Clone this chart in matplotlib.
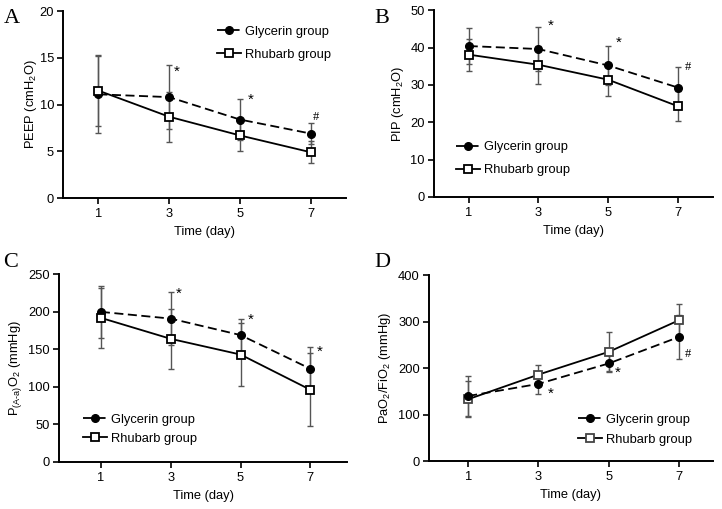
import matplotlib
matplotlib.use("Agg")
import matplotlib.pyplot as plt

plt.rcParams['font.family'] = ['Liberation Sans', 'DejaVu Sans']
plt.rcParams['mathtext.fontset'] = 'custom'
plt.rcParams['mathtext.rm'] = 'Liberation Sans'
plt.rcParams['mathtext.it'] = 'Liberation Sans:italic'
plt.rcParams['mathtext.bf'] = 'Liberation Sans:bold'

days = [1, 3, 5, 7]
groups = ["Glycerin group", "Rhubarb group"]

# Panel A: PEEP
peep_gly = [11.1, 10.8, 8.4, 6.9]
peep_gly_sd = [4.1, 3.4, 2.2, 1.1]
peep_rhu = [11.5, 8.7, 6.7, 4.9]
peep_rhu_sd = [3.8, 2.7, 1.7, 1.2]
peep_marks = ["*", "*", "#"]

# Panel B: PIP
pip_gly = [40.4, 39.6, 35.2, 29.3]
pip_gly_sd = [4.9, 5.9, 5.1, 5.6]
pip_rhu = [38.1, 35.4, 31.4, 24.3]
pip_rhu_sd = [4.3, 5.1, 4.5, 4.0]
pip_marks = ["*", "*", "#"]

# Panel C: P(A-a)O2
paa_gly = [200, 191, 169, 124]
paa_gly_sd = [35, 35, 21, 29]
paa_rhu = [192, 164, 143, 96]
paa_rhu_sd = [40, 40, 42, 49]
paa_marks = ["*", "*", "*"]

# Panel D: PaO2/FiO2
pf_gly = [140, 166, 210, 267]
pf_gly_sd = [43, 22, 18, 47]
pf_rhu = [133, 186, 235, 303]
pf_rhu_sd = [39, 21, 42, 36]
pf_marks = ["*", "*", "#"]

FS = 9.3

fig = plt.figure(figsize=(7.22, 5.09), dpi=100)

panels = [
    dict(letter="A", rect=[0.0873, 0.611, 0.392, 0.367], xlim=(0, 8), ylim=(0, 20), yticks=[0, 5, 10, 15, 20],
         ylabel="PEEP (cmH$_2$O)", gly=peep_gly, gsd=peep_gly_sd, rhu=peep_rhu, rsd=peep_rhu_sd,
         marks=peep_marks, mpos=[(3.2, 13.5), (5.3, 10.5), (7.15, 8.7)],
         leg=(0.544, 0.828), lsp=0.85, gly_top=False, letpos=(0.005, 0.983), lpad=0.5),
    dict(letter="B", rect=[0.601, 0.613, 0.386, 0.367], xlim=(0, 8), ylim=(0, 50), yticks=[0, 10, 20, 30, 40, 50],
         ylabel="PIP (cmH$_2$O)", gly=pip_gly, gsd=pip_gly_sd, rhu=pip_rhu, rsd=pip_rhu_sd,
         marks=pip_marks, mpos=[(3.34, 45.9), (5.31, 41.3), (7.28, 34.8)],
         leg=(0.079, 0.205), lsp=0.85, gly_top=False, letpos=(0.519, 0.983), lpad=3.5),
    dict(letter="C", rect=[0.0817, 0.0929, 0.399, 0.368], xlim=(-0.2, 8.05), ylim=(0, 250), yticks=[0, 50, 100, 150, 200, 250],
         ylabel="P$_{\\mathrm{(A\u2010a)}}$O$_2$ (mmHg)", gly=paa_gly, gsd=paa_gly_sd, rhu=paa_rhu, rsd=paa_rhu_sd,
         marks=paa_marks, mpos=[(3.24, 224.6), (5.3, 190), (7.27, 146.7)],
         leg=(0.083, 0.174), lsp=0.55, gly_top=False, letpos=(0.005, 0.503), lpad=3),
    dict(letter="D", rect=[0.594, 0.0943, 0.393, 0.365], xlim=(-0.12, 7.96), ylim=(0, 400), yticks=[0, 100, 200, 300, 400],
         ylabel="PaO$_2$/FiO$_2$ (mmHg)", gly=pf_gly, gsd=pf_gly_sd, rhu=pf_rhu, rsd=pf_rhu_sd,
         marks=pf_marks, mpos=[(3.34, 145.6), (5.25, 190), (7.27, 230)],
         leg=(0.525, 0.169), lsp=0.6, gly_top=True, letpos=(0.519, 0.503), lpad=3.5),
]

for p in panels:
    ax = fig.add_axes(p["rect"])
    ecol = "#555555"
    zg, zr = (3, 2) if p["gly_top"] else (2, 3)
    sq_edge = "#444444" if p["letter"] == "D" else "black"
    ax.errorbar(days, p["gly"], yerr=p["gsd"], fmt="none", ecolor=ecol, elinewidth=1.0,
                capsize=2.5, capthick=1.0, zorder=1)
    ax.errorbar(days, p["rhu"], yerr=p["rsd"], fmt="none", ecolor=ecol, elinewidth=1.0,
                capsize=2.5, capthick=1.0, zorder=1)
    ax.plot(days, p["gly"], color="black", linestyle=(0, (5, 2.5)), linewidth=1.3,
            marker="o", markersize=5.5, markerfacecolor="black", markeredgecolor="black",
            label=groups[0], zorder=zg)
    ax.plot(days, p["rhu"], color="black", linestyle="-", linewidth=1.3,
            marker="s", markersize=5.5, markerfacecolor="white", markeredgecolor=sq_edge,
            markeredgewidth=1.3, label=groups[1], zorder=zr)
    for m, (mx, my) in zip(p["marks"], p["mpos"]):
        ax.text(mx, my, m, ha="center", va="center", fontsize=9 if m == "#" else 11,
                family=["Liberation Serif"] if m == "#" else None)
    ax.set_xlim(*p["xlim"])
    ax.set_ylim(*p["ylim"])
    ax.set_xticks(days)
    ax.set_yticks(p["yticks"])
    ax.spines["top"].set_visible(False)
    ax.spines["right"].set_visible(False)
    ax.spines["left"].set_linewidth(1.4)
    ax.spines["bottom"].set_linewidth(1.4)
    ax.tick_params(axis="both", direction="out", length=4, width=1.2, labelsize=FS, pad=2.5)
    ax.tick_params(axis="x", pad=3.5)
    ax.set_xlabel("Time (day)", fontsize=FS, labelpad=4)
    ax.set_ylabel(p["ylabel"], fontsize=FS, labelpad=p["lpad"])
    ax.legend(loc="center left", bbox_to_anchor=p["leg"], frameon=False, fontsize=FS,
              handlelength=1.85, handletextpad=0.35, labelspacing=p["lsp"],
              borderpad=0, borderaxespad=0)
    fig.text(p["letpos"][0], p["letpos"][1], p["letter"], fontsize=16,
             family=["Liberation Serif"], ha="left", va="top")

fig.savefig("out.png", dpi=100)
